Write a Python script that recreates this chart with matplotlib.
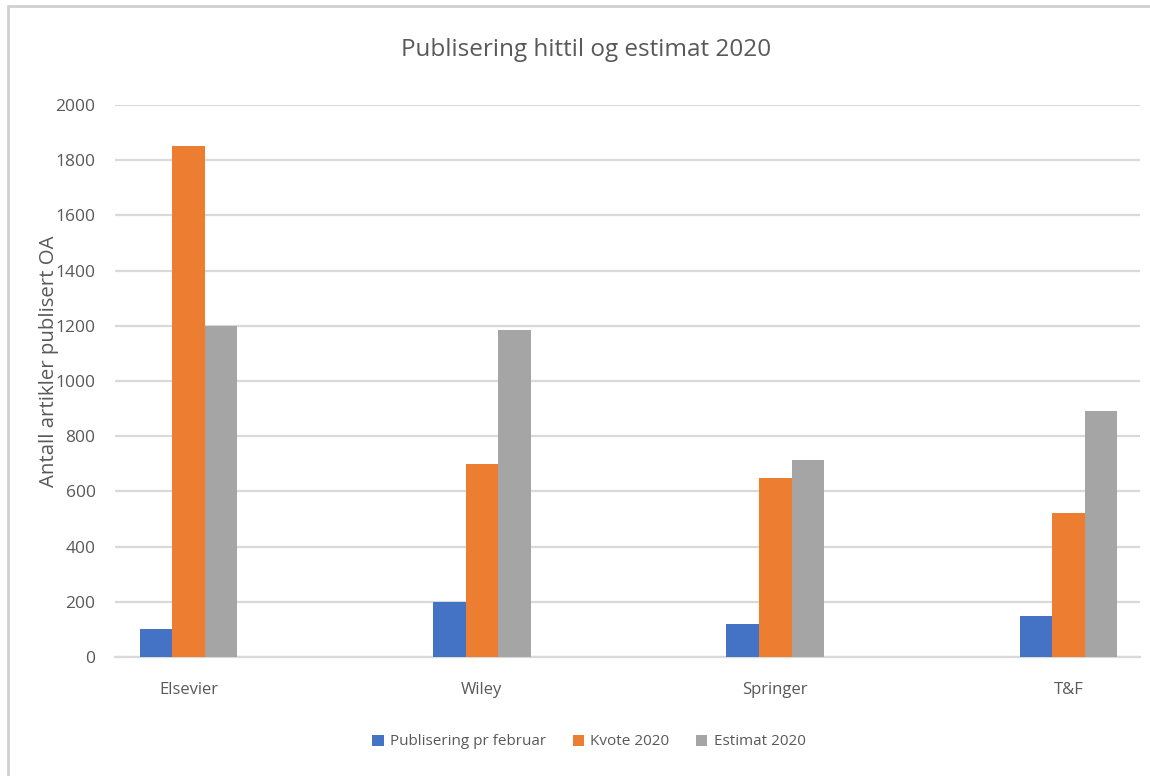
import matplotlib.pyplot as plt
import numpy as np
from matplotlib.patches import Rectangle

categories = ['Elsevier', 'Wiley', 'Springer', 'T&F']
series_names = ['Publisering pr februar', 'Kvote 2020', 'Estimat 2020']
publisering = [100, 200, 120, 150]
kvote = [1850, 700, 650, 520]
estimat = [1200, 1185, 715, 890]
yticks = np.arange(0, 2001, 200)

colors = ['#4472C4', '#ED7D31', '#A5A5A5']
text_color = '#595959'
grid_color = '#D9D9D9'
font = ['Open Sans', 'DejaVu Sans']

fig = plt.figure(figsize=(11.5, 7.76), dpi=100)
ax = fig.add_axes([0.1, 0.1534, 0.891, 0.7113])

# thin frame around the chart area (only left/top visible in reference)
fig.patches.append(Rectangle((0.007, -0.05), 1.2, 1.0425, transform=fig.transFigure,
                             fill=False, edgecolor='#D0D0D0', linewidth=2))

x = np.arange(len(categories))
width = 0.111
for i, (vals, name) in enumerate(zip([publisering, kvote, estimat], series_names)):
    ax.bar(x + (i - 1) * width, vals, width, color=colors[i], label=name, zorder=3)

ax.set_xlim(-0.2504, 3.242)
ax.set_ylim(0, 2000)
ax.set_yticks(yticks)
ax.set_yticklabels([str(v) for v in yticks], fontsize=12.5, color=text_color, family=font)
ax.set_xticks(x)
ax.set_xticklabels(categories, fontsize=12, color=text_color, family=font)
ax.tick_params(axis='both', length=0)
ax.tick_params(axis='y', pad=14)
ax.tick_params(axis='x', pad=18)

ax.yaxis.grid(True, color=grid_color, linewidth=1.6, zorder=0)
for s in ['top', 'right', 'left']:
    ax.spines[s].set_visible(False)
ax.spines['bottom'].set_color(grid_color)
ax.spines['bottom'].set_linewidth(1.6)

ax.set_ylabel('Antall artikler publisert OA', fontsize=14.7, color=text_color, family=font)
ax.yaxis.set_label_coords(-0.0545, 0.535)

fig.text(0.51, 0.935, 'Publisering hittil og estimat 2020', ha='center', va='center',
         fontsize=17.5, color=text_color, family=font)

leg = ax.legend(loc='center', bbox_to_anchor=(0.4624, -0.154), ncol=3, frameon=False,
                prop={'family': font, 'size': 11}, handlelength=0.75, handleheight=0.75,
                handletextpad=0.4, columnspacing=1.75)
for t in leg.get_texts():
    t.set_color(text_color)

fig.savefig('out.png', dpi=100, facecolor='white')
